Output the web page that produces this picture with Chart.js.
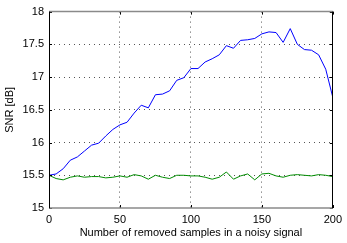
<!DOCTYPE html>
<html>
<head>
<meta charset="utf-8">
<script src="https://cdn.jsdelivr.net/npm/chart.js@4"></script>
<style>
  html, body { margin: 0; padding: 0; background: #fff; }
</style>
</head>
<body>
<canvas id="snr" width="347" height="243"></canvas>
<script>
// number of removed samples (x)
const samples = [0, 5, 10, 15, 20, 25, 30, 35, 40, 45, 50, 55, 60, 65, 70, 75, 80, 85, 90, 95, 100,
  105, 110, 115, 120, 125, 130, 135, 140, 145, 150, 155, 160, 165, 170, 175, 180, 185, 190, 195, 200];
// SNR curves in dB
const snrBlue = [15.50, 15.52, 15.60, 15.73, 15.78, 15.87, 15.96, 15.99, 16.10, 16.20, 16.27,
  16.31, 16.45, 16.57, 16.53, 16.73, 16.74, 16.79, 16.95, 16.99, 17.13,
  17.13, 17.23, 17.28, 17.34, 17.48, 17.44, 17.56, 17.57, 17.59, 17.66,
  17.69, 17.68, 17.53, 17.74, 17.50, 17.42, 17.41, 17.34, 17.12, 16.69];
const snrGreen = [15.50, 15.45, 15.43, 15.47, 15.49, 15.47, 15.48, 15.48, 15.46, 15.47, 15.49,
  15.47, 15.51, 15.49, 15.44, 15.50, 15.47, 15.45, 15.50, 15.50, 15.49,
  15.49, 15.47, 15.44, 15.47, 15.55, 15.44, 15.49, 15.52, 15.43, 15.52,
  15.53, 15.49, 15.47, 15.50, 15.51, 15.50, 15.49, 15.51, 15.50, 15.48];
const xTicks = [0, 50, 100, 150, 200];
const yTicks = [15, 15.5, 16, 16.5, 17, 17.5, 18];

const font = { family: "'Liberation Sans', Arial, sans-serif", size: 11 };

// matlab style box with inward ticks
const boxPlugin = {
  id: 'box',
  afterDatasetsDraw(chart) {
    const { ctx, chartArea: a, scales: { x, y } } = chart;
    ctx.save();
    ctx.strokeStyle = '#000';
    ctx.lineWidth = 1;
    ctx.beginPath();
    xTicks.forEach(v => {
      const px = Math.round(x.getPixelForValue(v)) + 0.5;
      ctx.moveTo(px, a.bottom); ctx.lineTo(px, a.bottom - 3);
      ctx.moveTo(px, a.top); ctx.lineTo(px, a.top + 3);
    });
    yTicks.forEach(v => {
      const py = Math.round(y.getPixelForValue(v)) + 0.5;
      ctx.moveTo(a.left, py); ctx.lineTo(a.left + 3, py);
      ctx.moveTo(a.right, py); ctx.lineTo(a.right - 3, py);
    });
    ctx.stroke();
    ctx.strokeStyle = '#8a8a8a';
    ctx.lineWidth = 1.5;
    ctx.beginPath();
    ctx.moveTo(a.left, a.top); ctx.lineTo(a.right, a.top);
    ctx.moveTo(a.left, a.bottom); ctx.lineTo(a.right, a.bottom);
    ctx.stroke();
    ctx.strokeStyle = '#000';
    ctx.lineWidth = 1;
    ctx.beginPath();
    ctx.moveTo(Math.round(a.left) + 0.5, a.top); ctx.lineTo(Math.round(a.left) + 0.5, a.bottom);
    ctx.moveTo(Math.round(a.right) - 0.5, a.top); ctx.lineTo(Math.round(a.right) - 0.5, a.bottom);
    ctx.stroke();
    ctx.restore();
  }
};

const innerGrid = (edges) => ctx => edges.includes(ctx.tick && ctx.tick.value) ? 'rgba(0,0,0,0)' : '#555';

new Chart(document.getElementById('snr'), {
  type: 'line',
  data: {
    labels: samples,
    datasets: [
      { data: snrBlue, borderColor: 'rgb(0,0,255)', borderWidth: 1, pointRadius: 0, tension: 0 },
      { data: snrGreen, borderColor: 'rgb(0,140,0)', borderWidth: 1, pointRadius: 0, tension: 0 }
    ]
  },
  options: {
    responsive: false,
    animation: false,
    layout: { padding: { left: 0, right: 14, top: 11, bottom: 0 } },
    plugins: { legend: { display: false }, tooltip: { enabled: false } },
    scales: {
      x: {
        type: 'linear', min: 0, max: 200,
        afterBuildTicks: s => { s.ticks = xTicks.map(v => ({ value: v })); },
        afterFit: s => { s.height = 35; },
        ticks: { color: '#000', font, padding: 5, maxRotation: 0, callback: v => String(v) },
        grid: { color: innerGrid([0, 200]), drawTicks: false, lineWidth: 1 },
        border: { display: false, dash: [1, 4] },
        title: { display: true, text: 'Number of removed samples in a noisy signal', color: '#000', font, padding: { top: 0, bottom: 3 } }
      },
      y: {
        min: 15, max: 18,
        afterBuildTicks: s => { s.ticks = yTicks.map(v => ({ value: v })); },
        afterFit: s => { s.width = 49; },
        ticks: { color: '#000', font, padding: 5, callback: v => String(v) },
        grid: { color: innerGrid([15, 18]), drawTicks: false, lineWidth: 1 },
        border: { display: false, dash: [1, 4] },
        title: { display: true, text: 'SNR [dB]', color: '#000', font, padding: { top: 3, bottom: 0 } }
      }
    }
  },
  plugins: [boxPlugin]
});
</script>
</body>
</html>
